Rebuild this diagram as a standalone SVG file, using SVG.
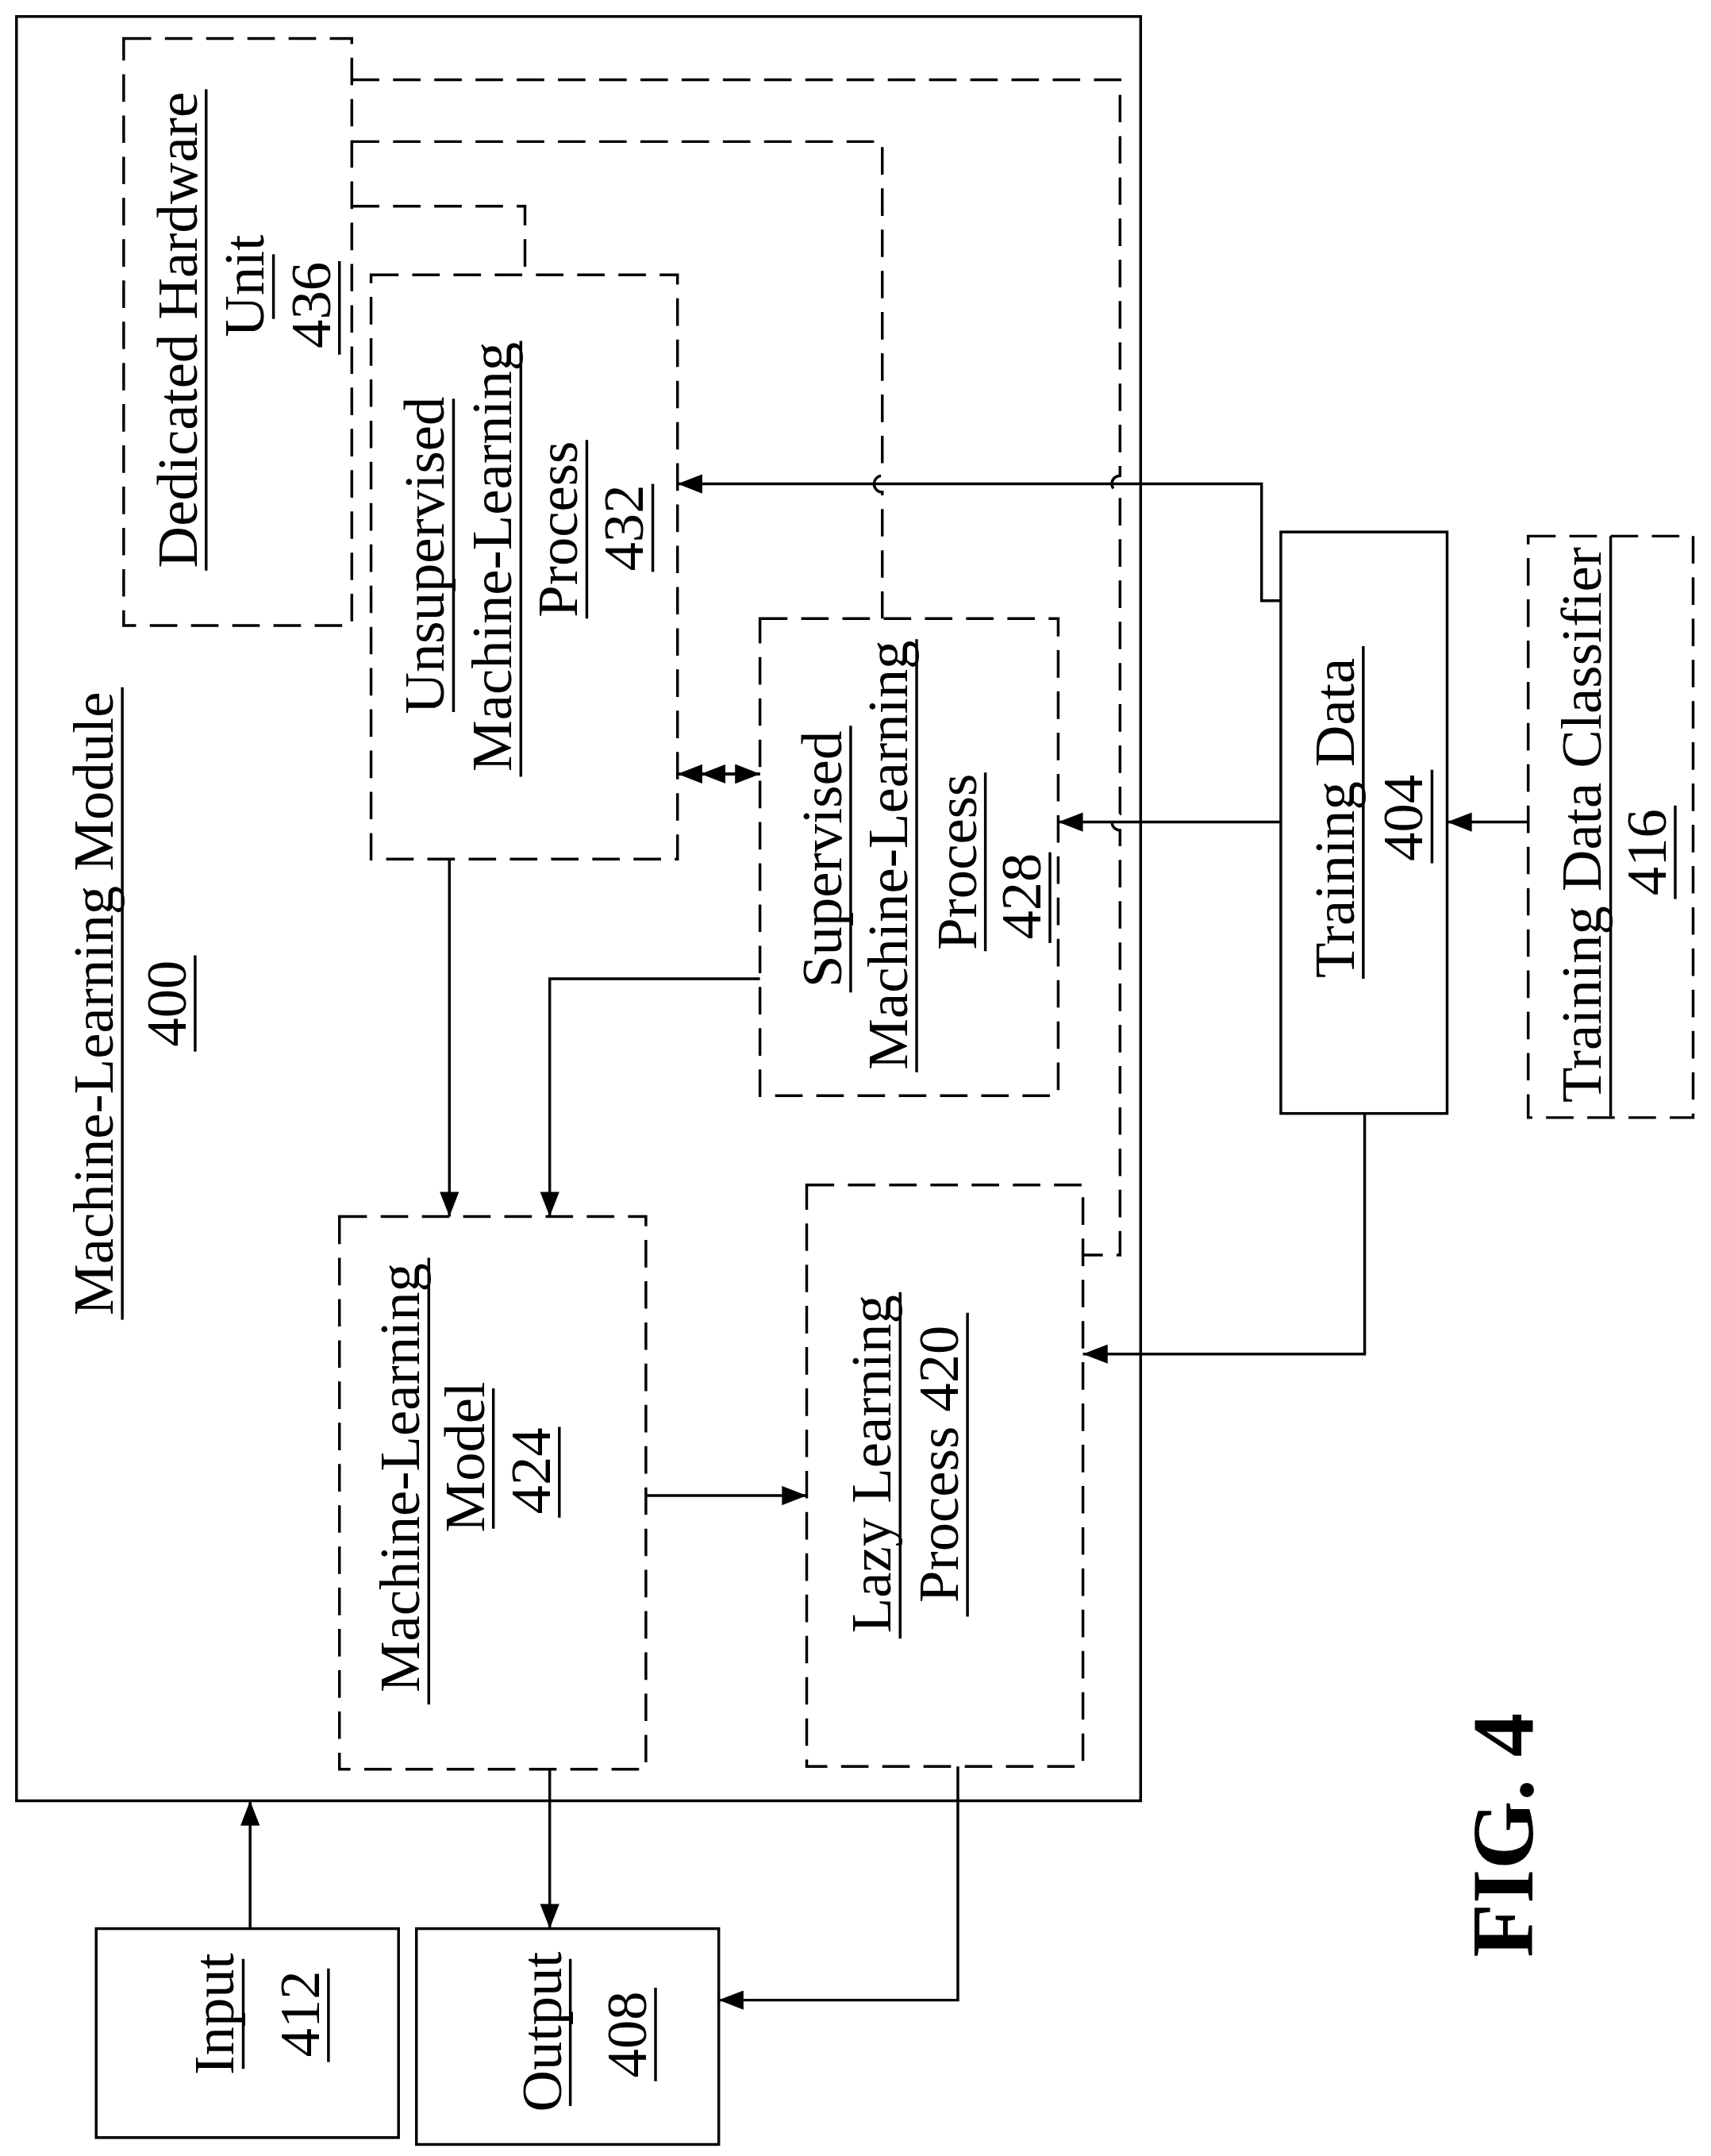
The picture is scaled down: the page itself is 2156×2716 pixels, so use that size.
<svg xmlns="http://www.w3.org/2000/svg" width="2156" height="2716" viewBox="0 0 2156 2716">
<defs>
<marker id="ah" markerWidth="20" markerHeight="14" refX="18" refY="7" orient="auto-start-reverse" markerUnits="userSpaceOnUse"><path d="M0,0 L18,7 L0,14 Z" fill="#000"/></marker>
<style>
.s{fill:none;stroke:#000;stroke-width:2}
.d{fill:none;stroke:#000;stroke-width:2;stroke-dasharray:20 10}
.c{fill:none;stroke:#000;stroke-width:2}
.a{marker-end:url(#ah)}
text{font-family:"Liberation Serif","Times New Roman",serif;font-size:42px;fill:#000;text-anchor:middle}
.u{stroke:#000;stroke-width:2}
.f{font-weight:bold;font-size:64px}
</style>
</defs>
<rect width="2156" height="2716" fill="#fff"/>
<g transform="scale(1.7317)">
<g id="module400">
<rect class="s" x="12" y="12" width="818" height="1298"/>
<text transform="translate(82,730) rotate(-90)">Machine-Learning Module</text>
<line class="u" x1="89" y1="500" x2="89" y2="960"/>
<text transform="translate(135,730) rotate(-90)">400</text>
<line class="u" x1="142" y1="695" x2="142" y2="765"/>
</g>
<g id="dhu436">
<rect class="d" x="90" y="28" width="166" height="427"/>
<text transform="translate(143,240) rotate(-90)">Dedicated Hardware</text>
<line class="u" x1="150" y1="65" x2="150" y2="415"/>
<text transform="translate(192,208) rotate(-90)">Unit</text>
<line class="u" x1="199" y1="185" x2="199" y2="232"/>
<text transform="translate(240,222) rotate(-90)">436</text>
<line class="u" x1="247" y1="190" x2="247" y2="258"/>
</g>
<g id="uml432">
<rect class="d" x="270" y="200" width="223" height="425"/>
<text transform="translate(323,404) rotate(-90)">Unsupervised</text>
<line class="u" x1="330" y1="290" x2="330" y2="518"/>
<text transform="translate(372,405) rotate(-90)">Machine-Learning</text>
<line class="u" x1="379" y1="248" x2="379" y2="565"/>
<text transform="translate(420,385) rotate(-90)">Process</text>
<line class="u" x1="427" y1="320" x2="427" y2="450"/>
<text transform="translate(468,384) rotate(-90)">432</text>
<line class="u" x1="475" y1="352" x2="475" y2="416"/>
</g>
<g id="sml428">
<rect class="d" x="553" y="450" width="217" height="347"/>
<text transform="translate(612,625) rotate(-90)">Supervised</text>
<line class="u" x1="619" y1="528" x2="619" y2="722"/>
<text transform="translate(660,622) rotate(-90)">Machine-Learning</text>
<line class="u" x1="667" y1="465" x2="667" y2="780"/>
<text transform="translate(710,627) rotate(-90)">Process</text>
<line class="u" x1="717" y1="562" x2="717" y2="692"/>
<text transform="translate(757,652) rotate(-90)">428</text>
<line class="u" x1="764" y1="620" x2="764" y2="686"/>
</g>
<g id="mlm424">
<rect class="d" x="247" y="885" width="223" height="402"/>
<text transform="translate(305,1075) rotate(-90)">Machine-Learning</text>
<line class="u" x1="312" y1="915" x2="312" y2="1240"/>
<text transform="translate(352,1060) rotate(-90)">Model</text>
<line class="u" x1="359" y1="1010" x2="359" y2="1112"/>
<text transform="translate(400,1070) rotate(-90)">424</text>
<line class="u" x1="407" y1="1038" x2="407" y2="1104"/>
</g>
<g id="lazy420">
<rect class="d" x="587" y="862" width="201" height="423"/>
<text transform="translate(648,1065) rotate(-90)">Lazy Learning</text>
<line class="u" x1="655" y1="940" x2="655" y2="1192"/>
<text transform="translate(697,1065) rotate(-90)">Process 420</text>
<line class="u" x1="704" y1="955" x2="704" y2="1176"/>
</g>
<g id="td404">
<rect class="s" x="932" y="387" width="121" height="423"/>
<text transform="translate(985,595) rotate(-90)">Training Data</text>
<line class="u" x1="992" y1="470" x2="992" y2="712"/>
<text transform="translate(1035,595) rotate(-90)">404</text>
<line class="u" x1="1042" y1="560" x2="1042" y2="628"/>
</g>
<g id="tdc416">
<rect class="d" x="1112" y="390" width="120" height="423"/>
<text transform="translate(1165,600) rotate(-90)">Training Data Classifier</text>
<line class="u" x1="1172" y1="390" x2="1172" y2="812"/>
<text transform="translate(1212,620) rotate(-90)">416</text>
<line class="u" x1="1219" y1="586" x2="1219" y2="654"/>
</g>
<g id="in412">
<rect class="s" x="70" y="1403" width="220" height="152"/>
<text transform="translate(170,1465) rotate(-90)">Input</text>
<line class="u" x1="177" y1="1425" x2="177" y2="1505"/>
<text transform="translate(232,1465) rotate(-90)">412</text>
<line class="u" x1="239" y1="1432" x2="239" y2="1500"/>
</g>
<g id="out408">
<rect class="s" x="303" y="1403" width="220" height="157"/>
<text transform="translate(408,1478) rotate(-90)">Output</text>
<line class="u" x1="415" y1="1425" x2="415" y2="1532"/>
<text transform="translate(470,1480) rotate(-90)">408</text>
<line class="u" x1="477" y1="1446" x2="477" y2="1514"/>
</g>
<g id="fig">
<text class="f" transform="translate(1115,1335) rotate(-90)">FIG. 4</text>
</g>
<g id="connectors">
<path class="d" d="M256,58 H815 V346 A6,6 0 0 0 815,358 V592 A6,6 0 0 0 815,604 V913 H788"/>
<path class="d" d="M256,103 H642 V346 A6,6 0 0 0 642,358 V450"/>
<path class="d" d="M256,150 H382 V200"/>
<path class="c a" d="M932,437 H918 V352 H493"/>
<path class="c a" d="M932,598 H770"/>
<path class="c a" d="M993,810 V985 H788"/>
<path class="c a" d="M1112,598 H1053"/>
<path class="c a" d="M510,563 H553" style="marker-start:url(#ah)"/>
<line class="c" x1="493" y1="563" x2="512" y2="563"/>
<path class="c a" d="M493,563 H553" style="marker-start:url(#ah)"/>
<path class="c a" d="M327,625 V885"/>
<path class="c a" d="M553,712 H400 V885"/>
<path class="c a" d="M470,1088 H587"/>
<path class="c a" d="M400,1287 V1403"/>
<path class="c a" d="M182,1403 V1310"/>
<path class="c a" d="M697,1285 V1455 H523"/>
</g>
</g>
</svg>
